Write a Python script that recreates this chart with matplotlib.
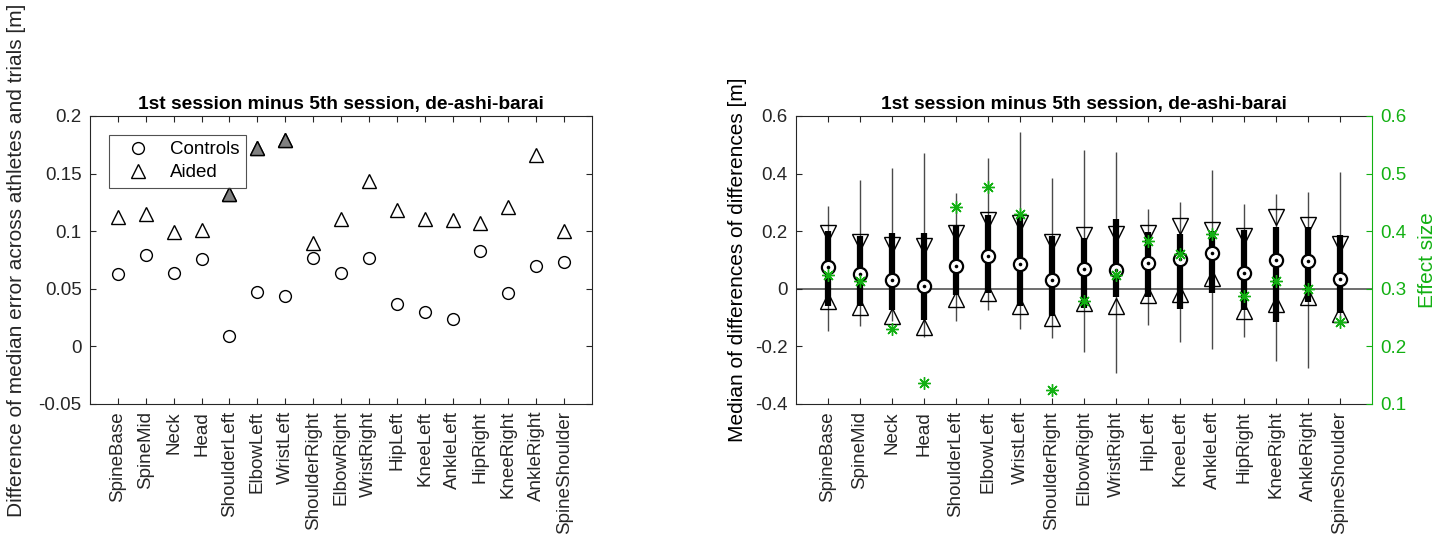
import matplotlib
matplotlib.use("Agg")
import matplotlib.pyplot as plt
from matplotlib.ticker import FuncFormatter
import numpy as np

plt.rcParams['font.family'] = ['Liberation Sans', 'DejaVu Sans']
plt.rcParams['axes.unicode_minus'] = False

joints = ['SpineBase', 'SpineMid', 'Neck', 'Head', 'ShoulderLeft', 'ElbowLeft',
          'WristLeft', 'ShoulderRight', 'ElbowRight', 'WristRight', 'HipLeft',
          'KneeLeft', 'AnkleLeft', 'HipRight', 'KneeRight', 'AnkleRight',
          'SpineShoulder']

# left panel
controls = [0.063, 0.079, 0.064, 0.076, 0.009, 0.047, 0.044, 0.077, 0.064,
            0.077, 0.037, 0.030, 0.024, 0.083, 0.046, 0.070, 0.073]
aided = [0.112, 0.115, 0.099, 0.101, 0.132, 0.172, 0.179, 0.090, 0.111,
         0.144, 0.118, 0.111, 0.110, 0.107, 0.121, 0.166, 0.100]
aided_significant = [False, False, False, False, True, True, True, False, False,
                     False, False, False, False, False, False, False, False]

# right panel
median = [0.076, 0.051, 0.030, 0.008, 0.080, 0.113, 0.086, 0.030, 0.069,
          0.066, 0.088, 0.102, 0.124, 0.054, 0.100, 0.095, 0.035]
q_hi = [0.199, 0.184, 0.193, 0.193, 0.219, 0.255, 0.251, 0.184, 0.176,
        0.243, 0.197, 0.191, 0.200, 0.203, 0.216, 0.216, 0.188]
q_lo = [-0.061, -0.058, -0.075, -0.108, -0.021, -0.015, -0.059, -0.096, -0.067,
        -0.027, -0.029, -0.069, -0.013, -0.075, -0.117, -0.047, -0.084]
whisk_hi = [0.288, 0.378, 0.421, 0.471, 0.332, 0.454, 0.546, 0.384, 0.483,
            0.475, 0.278, 0.303, 0.411, 0.295, 0.329, 0.336, 0.407]
whisk_lo = [-0.146, -0.128, -0.111, -0.168, -0.113, -0.075, -0.140, -0.171, -0.220,
            -0.293, -0.125, -0.185, -0.208, -0.168, -0.252, -0.275, -0.100]
notch_hi = [0.193, 0.164, 0.153, 0.150, 0.193, 0.240, 0.228, 0.164, 0.188,
            0.191, 0.193, 0.219, 0.205, 0.185, 0.249, 0.222, 0.156]
notch_lo = [-0.044, -0.064, -0.093, -0.131, -0.035, -0.013, -0.059, -0.102, -0.050,
            -0.058, -0.021, -0.017, 0.037, -0.076, -0.053, -0.029, -0.087]
effect_size = [0.324, 0.313, 0.230, 0.136, 0.442, 0.477, 0.430, 0.124, 0.278,
               0.324, 0.383, 0.361, 0.395, 0.288, 0.313, 0.300, 0.242]

title = '1st session minus 5th session, de-ashi-barai'
AX = '#262626'
GREEN = '#12b012'
FS = 13.5
LFS = 15

fig = plt.figure(figsize=(14.5, 5.4), dpi=100)
axL = fig.add_axes([90/1450, 136/540, 502/1450, 288/540])
axR = fig.add_axes([796/1450, 136/540, 576/1450, 288/540])

x = np.arange(1, len(joints) + 1)
fmt = FuncFormatter(lambda v, p: ('%g' % round(v, 4)))


def style(ax):
    for s in ax.spines.values():
        s.set_color(AX)
        s.set_linewidth(0.8)
    ax.tick_params(direction='in', length=4, width=0.8, color=AX,
                   labelcolor=AX, labelsize=FS, top=True, right=True)
    ax.tick_params(axis='y', pad=6)
    ax.tick_params(axis='x', pad=5)
    ax.set_xlim(0, len(joints) + 1)
    ax.set_xticks(x)
    ax.set_xticklabels(joints, rotation=90)
    ax.yaxis.set_major_formatter(fmt)
    ax.set_title(title, fontsize=13.8, fontweight='bold', color='black', pad=5)


# ---- left panel
style(axL)
axL.set_ylim(-0.05, 0.2)
axL.set_yticks([-0.05, 0, 0.05, 0.1, 0.15, 0.2])
axL.plot(x, controls, 'o', ms=8.5, mfc='none', mec='black', mew=1.0,
         label='Controls', zorder=3)
axL.plot(x, aided, '^', ms=10, mfc='none', mec='black', mew=1.0,
         label='Aided', zorder=3)
sig_x = [xi for xi, s in zip(x, aided_significant) if s]
sig_y = [a for a, s in zip(aided, aided_significant) if s]
axL.plot(sig_x, sig_y, '^', ms=10, mfc='#808080', mec='black', mew=1.0, zorder=4)
leg = axL.legend(loc='upper left', bbox_to_anchor=(0.037, 0.935), fontsize=FS,
                 frameon=True, fancybox=False, edgecolor=AX, handlelength=2.4,
                 handletextpad=0.5, borderpad=0.35, labelspacing=0.3,
                 borderaxespad=0)
leg.get_frame().set_linewidth(0.8)
axL.set_ylabel('Difference of median error across athletes and trials [m]',
               fontsize=LFS, color=AX, labelpad=9)

# ---- right panel
style(axR)
axR.tick_params(right=False)
axR.spines['right'].set_visible(False)
axR.set_ylim(-0.4, 0.6)
axR.set_yticks([-0.4, -0.2, 0, 0.2, 0.4, 0.6])
axR.axhline(0, color='#6e6e6e', lw=1.4, zorder=1)
axR.vlines(x, whisk_lo, whisk_hi, color='#4a4a4a', lw=1.0, zorder=2)
axR.vlines(x, q_lo, q_hi, color='black', lw=4.5, zorder=3)
axR.plot(x, notch_hi, 'v', ms=11, mfc='none', mec='black', mew=1.0, zorder=4)
axR.plot(x, notch_lo, '^', ms=11, mfc='none', mec='black', mew=1.0, zorder=4)
axR.plot(x, median, 'o', ms=9.5, mfc='white', mec='black', mew=1.6, zorder=5)
axR.plot(x, median, 'o', ms=2.6, mfc='black', mec='black', mew=0, zorder=6)
axR.set_ylabel('Median of differences of differences [m]', fontsize=LFS,
               color='black', labelpad=6)

axE = axR.twinx()
axE.set_ylim(0.1, 0.6)
axE.set_yticks([0.1, 0.2, 0.3, 0.4, 0.5, 0.6])
axE.yaxis.set_major_formatter(fmt)
for k, s in axE.spines.items():
    s.set_visible(k == 'right')
axE.spines['right'].set_color(GREEN)
axE.spines['right'].set_linewidth(0.8)
axE.tick_params(axis='y', direction='in', length=4, width=0.8, color=GREEN,
                labelcolor=GREEN, labelsize=FS, pad=6)
axE.plot(x, effect_size, marker=(8, 2, 0), ls='none', ms=9, mec=GREEN,
         mew=1.0, zorder=7)
axE.set_ylabel('Effect size', fontsize=LFS, color=GREEN, labelpad=8)

fig.savefig('out.png', dpi=100, facecolor='white')
